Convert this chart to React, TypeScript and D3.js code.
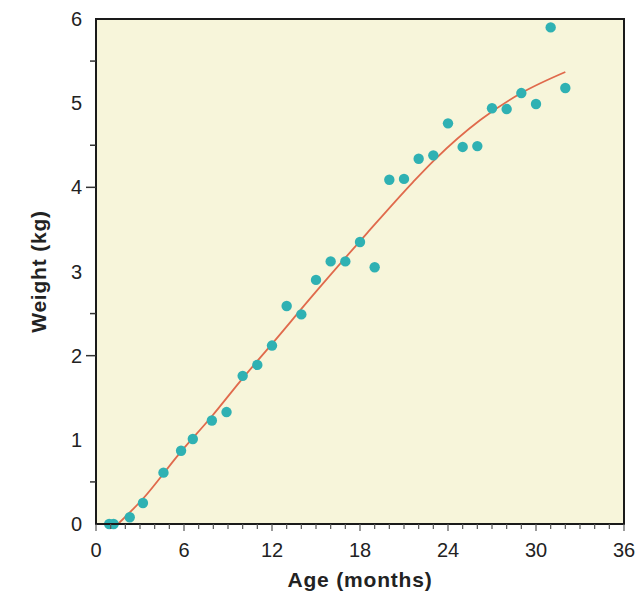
import * as d3 from "d3";

// observed points
const ages = [0.9, 1.2, 2.3, 3.2, 4.6, 5.8, 6.6, 7.9, 8.9, 10, 11, 12, 13, 14, 15, 16, 17, 18, 19, 20, 21, 22, 23, 24, 25, 26, 27, 28, 29, 30, 31, 32];
const weights = [0, 0, 0.08, 0.25, 0.61, 0.87, 1.01, 1.23, 1.33, 1.76, 1.89, 2.12, 2.59, 2.49, 2.9, 3.12, 3.12, 3.35, 3.05, 4.09, 4.1, 4.34, 4.38, 4.76, 4.48, 4.49, 4.94, 4.93, 5.12, 4.99, 5.9, 5.18];

// fitted curve
const fitAges = [1.5, 3.2, 5.7, 7.9, 9.9, 12, 15, 18.5, 21.6, 23.1, 26.2, 29, 32];
const fitWeights = [0, 0.3, 0.84, 1.28, 1.71, 2.14, 2.76, 3.46, 4.06, 4.33, 4.8, 5.12, 5.37];

const xTickLabels = [0, 6, 12, 18, 24, 30, 36];
const xMinorTicks = d3.range(0, 37, 1);
const yTickLabels = [0, 1, 2, 3, 4, 5, 6];
const yMarks = [0.5, 2, 2.5, 4, 4.5, 5.5];

const W = 641;
const H = 596;
const margin = { top: 19, right: 17, bottom: 72, left: 96 };

const App = () => {
  const x = d3.scaleLinear().domain([0, 36]).range([margin.left, W - margin.right]);
  const y = d3.scaleLinear().domain([0, 6]).range([H - margin.bottom, margin.top]);

  const fit = fitAges.map((a, i) => [a, fitWeights[i]] as [number, number]);
  const line = d3
    .line<[number, number]>()
    .x((d) => x(d[0]))
    .y((d) => y(d[1]))
    .curve(d3.curveMonotoneX);

  const font = "'Liberation Sans', Arial, Helvetica, sans-serif";
  const x0 = x(0);
  const y0 = y(0);

  return (
    <svg width={W} height={H} style={{ position: "absolute", left: 0, top: 0, background: "#fff" }} fontFamily={font}>
      <rect x={x0} y={y(6)} width={x(36) - x0} height={y0 - y(6)} fill="#f7f5da" />

      <path d={line(fit) ?? ""} fill="none" stroke="#e06a4c" strokeWidth={1.8} />

      {ages.map((a, i) => (
        <circle key={i} cx={x(a)} cy={y(weights[i])} r={5.2} fill="#2fb1b3" />
      ))}

      {/* frame */}
      <rect x={x0} y={y(6)} width={x(36) - x0} height={y0 - y(6)} fill="none" stroke="#1a1a1a" strokeWidth={2} />

      {/* x ticks */}
      {xMinorTicks.map((t) => (
        <line
          key={"xt" + t}
          x1={x(t)}
          x2={x(t)}
          y1={y0}
          y2={y0 + (t % 6 === 0 ? 7 : 5)}
          stroke="#555"
          strokeWidth={1.2}
        />
      ))}
      {xTickLabels.map((t) => (
        <text key={"xl" + t} x={x(t)} y={y0 + 33} textAnchor="middle" fontSize={20} fill="#222">
          {t}
        </text>
      ))}

      {/* y ticks */}
      {yMarks.map((t) => (
        <line
          key={"yt" + t}
          x1={x0 - (Number.isInteger(t) ? 10 : 6)}
          x2={x0}
          y1={y(t)}
          y2={y(t)}
          stroke="#333"
          strokeWidth={1.5}
        />
      ))}
      {yTickLabels.map((t) => (
        <text key={"yl" + t} x={82} y={y(t) + 7} textAnchor="end" fontSize={20} fill="#222">
          {t}
        </text>
      ))}

      <text x={(x0 + x(36)) / 2} y={587} textAnchor="middle" fontSize={21} fontWeight="bold" letterSpacing={0.8} fill="#222">
        Age (months)
      </text>
      <text
        transform={`translate(46, ${(y0 + y(6)) / 2}) rotate(-90)`}
        textAnchor="middle"
        fontSize={21}
        fontWeight="bold"
        letterSpacing={0.8}
        fill="#222"
      >
        Weight (kg)
      </text>
    </svg>
  );
};

export default App;
